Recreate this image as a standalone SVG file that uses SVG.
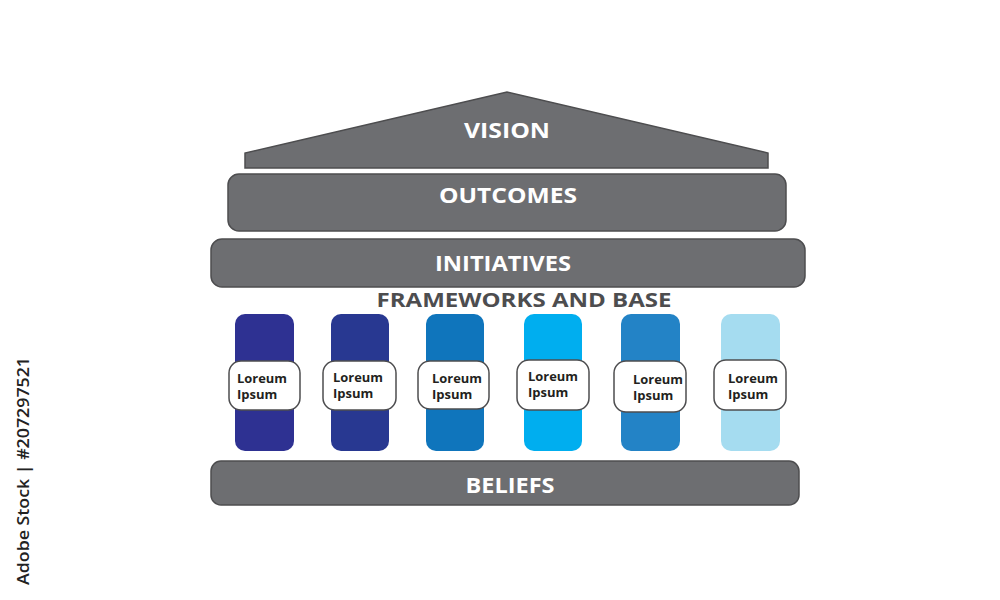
<svg xmlns="http://www.w3.org/2000/svg" width="1000" height="600" viewBox="0 0 1000 600">
<style>
.slab{fill:#6d6e71;stroke:#4d4d4f;stroke-width:1.5}
.title{font-family:"Open Sans","Liberation Sans",sans-serif;font-weight:700;fill:#ffffff;font-size:22px;text-anchor:middle}
.sub{font-family:"Open Sans","Liberation Sans",sans-serif;font-weight:700;fill:#4d4d4f;font-size:20px;text-anchor:middle}
.lbl{fill:#ffffff;stroke:#4d4d4f;stroke-width:1.5}
.lt{font-family:"Open Sans","Liberation Sans",sans-serif;font-weight:700;fill:#231f20;font-size:13px}
</style>
<rect width="1000" height="600" fill="#ffffff"/>
<g id="vision">
<polygon class="slab" points="245,168 245,153 507,92 768,153 768,168"/>
<text class="title" x="507" y="138" textLength="86" lengthAdjust="spacingAndGlyphs">VISION</text>
</g>
<g id="outcomes">
<rect class="slab" x="228" y="174" width="558" height="57" rx="11"/>
<text class="title" x="508" y="203" textLength="138" lengthAdjust="spacingAndGlyphs">OUTCOMES</text>
</g>
<g id="initiatives">
<rect class="slab" x="211" y="239" width="594" height="48" rx="11"/>
<text class="title" x="503" y="271" textLength="136" lengthAdjust="spacingAndGlyphs">INITIATIVES</text>
</g>
<g id="frameworks">
<text class="sub" x="524" y="307" textLength="295" lengthAdjust="spacingAndGlyphs">FRAMEWORKS AND BASE</text>
</g>
<g id="pillar1">
<rect x="235" y="314" width="59" height="137" rx="10" fill="#2e3192"/>
<rect class="lbl" x="229" y="361" width="71" height="49" rx="12"/>
<text class="lt" x="237" y="383" textLength="50" lengthAdjust="spacingAndGlyphs">Loreum</text><text class="lt" x="237" y="399">Ipsum</text>
</g>
<g id="pillar2">
<rect x="331" y="314" width="58" height="137" rx="10" fill="#283891"/>
<rect class="lbl" x="323" y="361" width="73" height="49" rx="12"/>
<text class="lt" x="333" y="382" textLength="50" lengthAdjust="spacingAndGlyphs">Loreum</text><text class="lt" x="333" y="398">Ipsum</text>
</g>
<g id="pillar3">
<rect x="426" y="314" width="58" height="137" rx="10" fill="#0f75bc"/>
<rect class="lbl" x="418" y="361" width="71" height="48" rx="12"/>
<text class="lt" x="432" y="383" textLength="50" lengthAdjust="spacingAndGlyphs">Loreum</text><text class="lt" x="432" y="399">Ipsum</text>
</g>
<g id="pillar4">
<rect x="524" y="314" width="58" height="137" rx="10" fill="#00aeef"/>
<rect class="lbl" x="517" y="360" width="72" height="50" rx="12"/>
<text class="lt" x="528" y="381" textLength="50" lengthAdjust="spacingAndGlyphs">Loreum</text><text class="lt" x="528" y="397">Ipsum</text>
</g>
<g id="pillar5">
<rect x="621" y="314" width="59" height="137" rx="10" fill="#2383c6"/>
<rect class="lbl" x="614" y="361" width="72" height="51" rx="12"/>
<text class="lt" x="633" y="384" textLength="50" lengthAdjust="spacingAndGlyphs">Loreum</text><text class="lt" x="633" y="400">Ipsum</text>
</g>
<g id="pillar6">
<rect x="721" y="314" width="59" height="137" rx="10" fill="#a5dcf0"/>
<rect class="lbl" x="714" y="360" width="72" height="50" rx="12"/>
<text class="lt" x="728" y="383" textLength="50" lengthAdjust="spacingAndGlyphs">Loreum</text><text class="lt" x="728" y="399">Ipsum</text>
</g>
<g id="beliefs">
<rect class="slab" x="211" y="461" width="588" height="44" rx="10"/>
<text class="title" x="510" y="493" textLength="89" lengthAdjust="spacingAndGlyphs">BELIEFS</text>
</g>
<g id="connectors"></g>
<text x="29" y="585" transform="rotate(-90 29 585)" font-family="Open Sans, Liberation Sans, sans-serif" font-size="17" font-weight="600" fill="#222222" textLength="228" lengthAdjust="spacingAndGlyphs">Adobe Stock | #207297521</text>
</svg>
